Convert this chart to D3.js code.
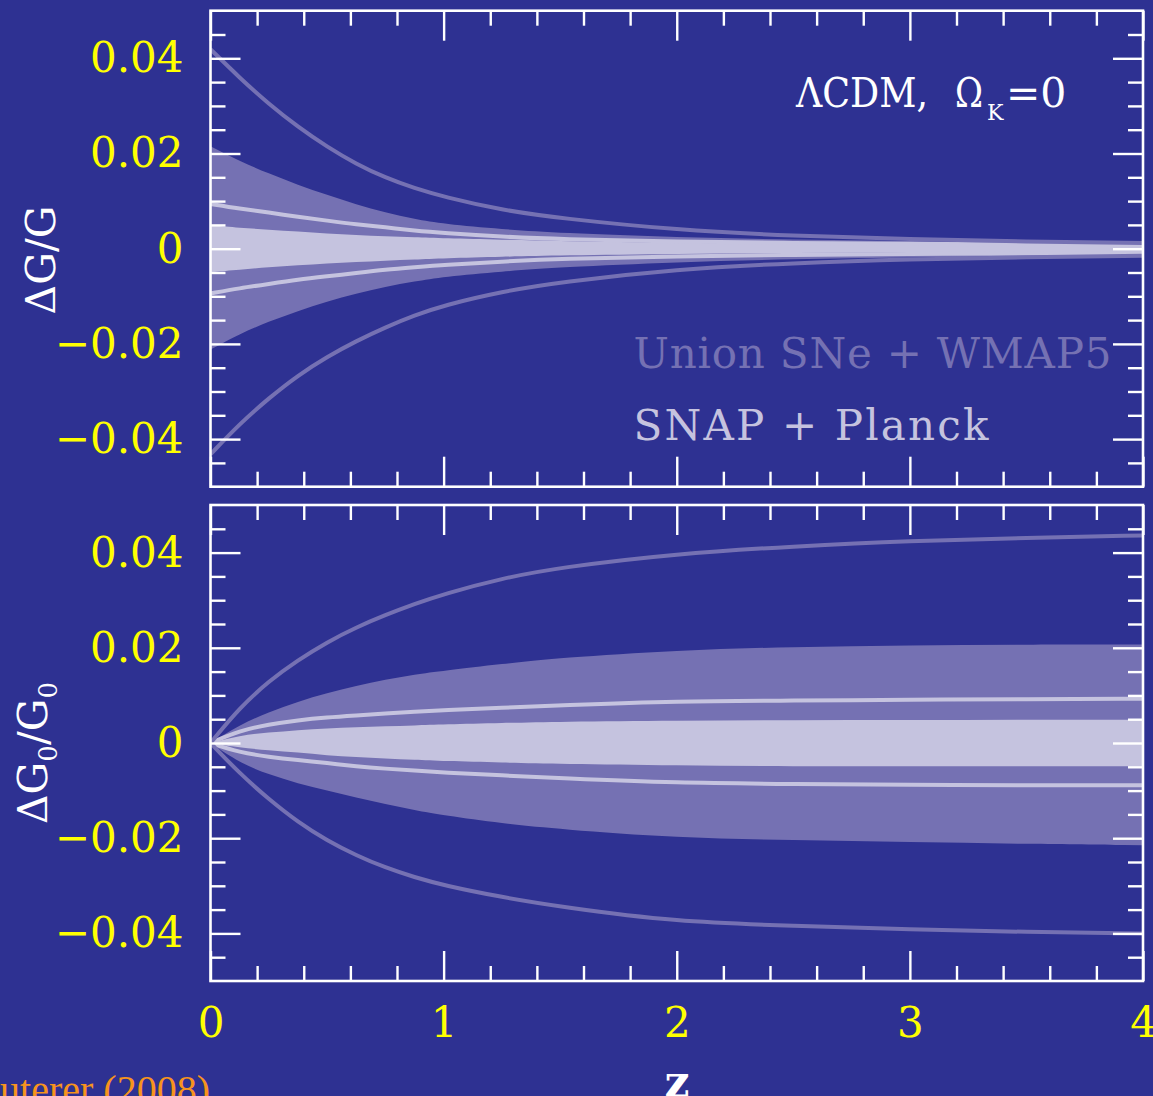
<!DOCTYPE html>
<html>
<head>
<meta charset="utf-8">
<script src="https://cdn.jsdelivr.net/npm/d3@7"></script>
<style>
  html, body { margin: 0; padding: 0; background: #2e3192; }
  svg { display: block; }
</style>
</head>
<body>
<script>
// Redshift grid shared by every curve
const zGrid = [0, 0.125, 0.25, 0.375, 0.5, 0.625, 0.75, 0.875, 1, 1.25, 1.5, 2, 2.5, 3, 3.5, 4];

// Upper panel: ΔG/G (normalised at high z)
const unionLineHiG = [0.0419, 0.0359, 0.0304, 0.0256, 0.0214, 0.0178, 0.0149, 0.0127, 0.0109, 0.0081, 0.0064, 0.0039, 0.0027, 0.0020, 0.0015, 0.0012];
const unionBandHiG = [0.0215, 0.0184, 0.0158, 0.0134, 0.0113, 0.0093, 0.0076, 0.0062, 0.0052, 0.0041, 0.0033, 0.0024, 0.0019, 0.0016, 0.0014, 0.0013];
const snapLineHiG  = [0.0094, 0.0084, 0.0076, 0.0067, 0.0059, 0.0051, 0.0045, 0.0038, 0.0033, 0.0025, 0.0020, 0.0015, 0.0012, 0.0010, 0.0009, 0.0008];
const snapBandHiG  = [0.0049, 0.0044, 0.0040, 0.0036, 0.0032, 0.0029, 0.0026, 0.0024, 0.0022, 0.0019, 0.0016, 0.0012, 0.0010, 0.0009, 0.0008, 0.0007];
const snapBandLoG  = [-0.0049, -0.0044, -0.0039, -0.0035, -0.0031, -0.0028, -0.0025, -0.0023, -0.0020, -0.0017, -0.0014, -0.0011, -0.0009, -0.0008, -0.0007, -0.0007];
const snapLineLoG  = [-0.0094, -0.0083, -0.0074, -0.0065, -0.0058, -0.0051, -0.0044, -0.0039, -0.0034, -0.0027, -0.0021, -0.0016, -0.0013, -0.0011, -0.0010, -0.0009];
const unionBandLoG = [-0.0212, -0.0179, -0.0153, -0.0131, -0.0111, -0.0094, -0.0080, -0.0069, -0.0059, -0.0048, -0.0039, -0.0028, -0.0022, -0.0018, -0.0016, -0.0015];
const unionLineLoG = [-0.0432, -0.0368, -0.0314, -0.0266, -0.0227, -0.0194, -0.0165, -0.0140, -0.0119, -0.0090, -0.0070, -0.0043, -0.0030, -0.0022, -0.0018, -0.0015];

// Lower panel: ΔG0/G0 (normalised today)
const unionLineHiG0 = [0, 0.0074, 0.0130, 0.0174, 0.0212, 0.0243, 0.0269, 0.0292, 0.0313, 0.0346, 0.0369, 0.0398, 0.0413, 0.0425, 0.0431, 0.0436];
const unionBandHiG0 = [0, 0.0038, 0.0065, 0.0087, 0.0105, 0.0120, 0.0133, 0.0144, 0.0152, 0.0166, 0.0179, 0.0195, 0.0202, 0.0205, 0.0207, 0.0207];
const snapLineHiG0  = [0, 0.0026, 0.0039, 0.0048, 0.0054, 0.0058, 0.0062, 0.0066, 0.0069, 0.0074, 0.0079, 0.0088, 0.0089, 0.0091, 0.0092, 0.0093];
const snapBandHiG0  = [0, 0.0016, 0.0022, 0.0027, 0.0031, 0.0033, 0.0035, 0.0037, 0.0039, 0.0042, 0.0045, 0.0047, 0.0048, 0.0048, 0.0049, 0.0049];
const snapBandLoG0  = [0, -0.0010, -0.0015, -0.0020, -0.0026, -0.0029, -0.0033, -0.0035, -0.0038, -0.0041, -0.0044, -0.0047, -0.0049, -0.0049, -0.0049, -0.0049];
const snapLineLoG0  = [0, -0.0020, -0.0029, -0.0036, -0.0042, -0.0049, -0.0054, -0.0058, -0.0062, -0.0068, -0.0074, -0.0084, -0.0086, -0.0088, -0.0089, -0.0089];
const unionBandLoG0 = [0, -0.0042, -0.0066, -0.0085, -0.0100, -0.0115, -0.0128, -0.0141, -0.0152, -0.0169, -0.0181, -0.0199, -0.0204, -0.0208, -0.0212, -0.0215];
const unionLineLoG0 = [0, -0.0064, -0.0118, -0.0166, -0.0205, -0.0236, -0.0262, -0.0282, -0.0299, -0.0324, -0.0344, -0.0376, -0.0384, -0.0392, -0.0397, -0.0400];

// Tick values and labels
const zMajor = [0, 1, 2, 3, 4];
const zMinor = [0.2, 0.4, 0.6, 0.8, 1.2, 1.4, 1.6, 1.8, 2.2, 2.4, 2.6, 2.8, 3.2, 3.4, 3.6, 3.8];
const yMajor = [-0.04, -0.02, 0, 0.02, 0.04];
const yMinor = [-0.045, -0.035, -0.03, -0.025, -0.015, -0.01, -0.005, 0.005, 0.01, 0.015, 0.025, 0.03, 0.035, 0.045];
const yTickLabels = ["−0.04", "−0.02", "0", "0.02", "0.04"];
const zTickLabels = ["0", "1", "2", "3", "4"];

// Colours
const BG = "#2e3192";
const MID = "#7571b3";
const LIGHT = "#c5c3df";
const YELLOW = "#ffff00";
const WHITE = "#ffffff";
const ORANGE = "#f7941d";
const SERIF = "'DejaVu Serif', serif";

const W = 1153, H = 1096;
const svg = d3.select("body").append("svg").attr("width", W).attr("height", H);
svg.append("rect").attr("width", W).attr("height", H).attr("fill", BG);

const x = d3.scaleLinear().domain([0, 4]).range([210.5, 1143]);

function drawPanel(y, s, showZLabels) {
  const g = svg.append("g");
  const [x0, x1] = x.range();
  const [yb, yt] = y.range();
  const rows = zGrid.map((z, i) => ({ z, i }));
  const curve = d3.curveBasis;

  const band = (lo, hi) => d3.area().curve(curve)
    .x(d => x(d.z)).y0(d => y(lo[d.i])).y1(d => y(hi[d.i]));
  const line = arr => d3.line().curve(curve).x(d => x(d.z)).y(d => y(arr[d.i]));

  const clipId = "clip" + Math.round(yt);
  svg.append("clipPath").attr("id", clipId)
    .append("rect").attr("x", x0).attr("y", yt).attr("width", x1 - x0).attr("height", yb - yt);
  const plot = g.append("g").attr("clip-path", `url(#${clipId})`);

  // Union SNe + WMAP5 shaded range, then SNAP + Planck shaded range on top
  plot.append("path").attr("d", band(s.unionBandLo, s.unionBandHi)(rows)).attr("fill", MID);
  plot.append("path").attr("d", band(s.snapBandLo, s.snapBandHi)(rows)).attr("fill", LIGHT);
  // outer limits drawn as lines
  [s.snapLineHi, s.snapLineLo].forEach(arr =>
    plot.append("path").attr("d", line(arr)(rows)).attr("fill", "none")
      .attr("stroke", LIGHT).attr("stroke-width", 4));
  [s.unionLineHi, s.unionLineLo].forEach(arr =>
    plot.append("path").attr("d", line(arr)(rows)).attr("fill", "none")
      .attr("stroke", MID).attr("stroke-width", 4));

  const style = sel => {
    sel.select(".domain").remove();
    sel.attr("color", WHITE);
    sel.selectAll("line").attr("stroke-width", 2.4);
    sel.selectAll("text").attr("fill", YELLOW).attr("font-family", SERIF).attr("font-size", 42);
  };

  // left
  g.append("g").attr("transform", `translate(${x0},0)`)
    .call(d3.axisLeft(y).tickValues(yMajor).tickSize(-30).tickPadding(27)
      .tickFormat((d, i) => yTickLabels[i])).call(style);
  g.append("g").attr("transform", `translate(${x0},0)`)
    .call(d3.axisLeft(y).tickValues(yMinor).tickSize(-15).tickFormat("")).call(style);
  // right
  g.append("g").attr("transform", `translate(${x1},0)`)
    .call(d3.axisRight(y).tickValues(yMajor).tickSize(-30).tickFormat("")).call(style);
  g.append("g").attr("transform", `translate(${x1},0)`)
    .call(d3.axisRight(y).tickValues(yMinor).tickSize(-15).tickFormat("")).call(style);
  // top
  g.append("g").attr("transform", `translate(0,${yt})`)
    .call(d3.axisTop(x).tickValues(zMajor).tickSize(-30).tickFormat("")).call(style);
  g.append("g").attr("transform", `translate(0,${yt})`)
    .call(d3.axisTop(x).tickValues(zMinor).tickSize(-15).tickFormat("")).call(style);
  // bottom
  g.append("g").attr("transform", `translate(0,${yb})`)
    .call(d3.axisBottom(x).tickValues(zMajor).tickSize(-30).tickPadding(26)
      .tickFormat((d, i) => showZLabels ? zTickLabels[i] : "")).call(style);
  g.append("g").attr("transform", `translate(0,${yb})`)
    .call(d3.axisBottom(x).tickValues(zMinor).tickSize(-15).tickFormat("")).call(style);

  // frame
  g.append("rect").attr("x", x0).attr("y", yt).attr("width", x1 - x0).attr("height", yb - yt)
    .attr("fill", "none").attr("stroke", WHITE).attr("stroke-width", 2.6);
  return g;
}

const yTop = d3.scaleLinear().domain([-0.05, 0.05]).range([486.7, 10.7]);
const yBot = d3.scaleLinear().domain([-0.05, 0.05]).range([981, 505]);

drawPanel(yTop, {
  unionLineHi: unionLineHiG, unionBandHi: unionBandHiG, snapLineHi: snapLineHiG, snapBandHi: snapBandHiG,
  snapBandLo: snapBandLoG, snapLineLo: snapLineLoG, unionBandLo: unionBandLoG, unionLineLo: unionLineLoG
}, false);

drawPanel(yBot, {
  unionLineHi: unionLineHiG0, unionBandHi: unionBandHiG0, snapLineHi: snapLineHiG0, snapBandHi: snapBandHiG0,
  snapBandLo: snapBandLoG0, snapLineLo: snapLineLoG0, unionBandLo: unionBandLoG0, unionLineLo: unionLineLoG0
}, true);

// Panel annotations
const title = svg.append("text").attr("font-family", SERIF).attr("fill", WHITE).attr("font-size", 41);
title.append("tspan").attr("x", 796).attr("y", 107).attr("textLength", 132).attr("lengthAdjust", "spacingAndGlyphs").text("ΛCDM,");
title.append("tspan").attr("x", 955).attr("y", 107).attr("textLength", 28).attr("lengthAdjust", "spacingAndGlyphs").text("Ω");
title.append("tspan").attr("x", 987).attr("y", 120).attr("font-size", 22).text("K");
title.append("tspan").attr("x", 1006).attr("y", 107).text("=0");

svg.append("text").attr("x", 633.5).attr("y", 368).attr("font-family", SERIF).attr("font-size", 42)
  .attr("fill", MID).attr("textLength", 478).attr("lengthAdjust", "spacing").text("Union SNe + WMAP5");
svg.append("text").attr("x", 633.5).attr("y", 440).attr("font-family", SERIF).attr("font-size", 42)
  .attr("fill", LIGHT).attr("textLength", 355).attr("lengthAdjust", "spacing").text("SNAP + Planck");

// Axis titles
svg.append("text").attr("transform", "translate(55,260) rotate(-90)").attr("text-anchor", "middle")
  .attr("font-family", SERIF).attr("font-size", 41).attr("fill", WHITE).text("ΔG/G");

const yt2 = svg.append("text").attr("transform", "translate(47,753) rotate(-90)").attr("text-anchor", "middle")
  .attr("font-family", SERIF).attr("font-size", 41).attr("fill", WHITE);
yt2.append("tspan").text("ΔG");
yt2.append("tspan").attr("font-size", 26).attr("dy", 10).text("0");
yt2.append("tspan").attr("dy", -10).text("/G");
yt2.append("tspan").attr("font-size", 26).attr("dy", 10).text("0");

svg.append("text").attr("x", 677).attr("y", 1097).attr("text-anchor", "middle")
  .attr("font-family", SERIF).attr("font-size", 44).attr("font-weight", "bold").attr("fill", WHITE).text("z");

svg.append("text").attr("x", 210).attr("y", 1103).attr("text-anchor", "end")
  .attr("font-family", "'Liberation Serif', serif").attr("font-size", 40).attr("fill", ORANGE).text("Huterer (2008)");
</script>
</body>
</html>
